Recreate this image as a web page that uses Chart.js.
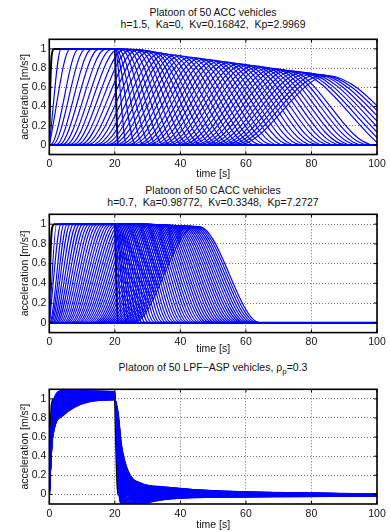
<!DOCTYPE html>
<html><head><meta charset="utf-8">
<script src="https://cdn.jsdelivr.net/npm/chart.js@4.4.1/dist/chart.umd.min.js"></script>
<style>
html,body{margin:0;padding:0;background:#fff;width:390px;height:531px;overflow:hidden;position:relative;font-family:'Liberation Sans',Arial,sans-serif;}
.t{position:absolute;left:49px;width:328px;text-align:center;font-size:10.5px;line-height:12px;color:#111;white-space:nowrap;}
.c{position:absolute;left:0;width:390px;}
sub{font-size:8px;vertical-align:-3px;line-height:0;}
</style></head><body>
<div class="t" style="top:6px">Platoon of 50 ACC vehicles<br>h=1.5,&nbsp; Ka=0,&nbsp; Kv=0.16842,&nbsp; Kp=2.9969</div>
<div class="t" style="top:184px">Platoon of 50 CACC vehicles<br>h=0.7,&nbsp; Ka=0.98772,&nbsp; Kv=0.3348,&nbsp; Kp=7.2727</div>
<div class="t" style="top:361px">Platoon of 50 LPF−ASP vehicles, ρ<sub>p</sub>=0.3</div>
<div class="c" style="top:30px;height:150px"><canvas id="c1" width="390" height="150"></canvas></div>
<div class="c" style="top:205px;height:150px"><canvas id="c2" width="390" height="150"></canvas></div>
<div class="c" style="top:380px;height:151px"><canvas id="c3" width="390" height="151"></canvas></div>
<script>
// ---- axes ----
const timeTicks = [0, 20, 40, 60, 80, 100];
const accelTicks = [0, 0.2, 0.4, 0.6, 0.8, 1];
const timeLabel = 'time [s]';
const accelLabel = 'acceleration [m/s²]';

// ---- leader (black) ----
const leaderTime  = [0, 0.3, 0.8, 1.5, 20, 20.4, 20.9, 100];
const leaderAccel = [0, 0.6, 0.95, 1, 1, 0.5, 0, 0];
const pulseWidth = 20; // leader pulse length [s]

// ---- ACC followers: rise mid-time, rise/fall half-width, peak ----
const accRiseMid = [1.8,3.2,4.6,6.0,7.5,9.0,10.5,12.0,13.5,15.0,16.5,18.0,19.5,21.0,22.5,24.0,25.5,27.0,28.5,30.0,31.5,33.0,34.5,36.0,37.5,39.0,40.5,42.0,43.5,45.0,46.5,48.0,49.5,51.0,52.5,54.0,55.5,57.0,58.5,60.0,61.5,63.0,64.5,66.0,67.5,69.0,70.5,72.0,73.5,75.0];
const accSpread = [1.8,3.2,4.3,5.0,5.5,6.1,6.6,7.0,7.4,7.8,8.2,8.6,8.9,9.3,9.6,9.9,10.2,10.5,10.8,11.1,11.4,11.6,11.9,12.1,12.4,12.6,12.9,13.1,13.4,13.6,13.8,14.0,14.2,14.5,14.7,14.9,15.1,15.3,15.5,15.7,15.9,16.1,16.3,16.4,16.6,16.8,17.0,17.2,17.4,17.5];
const accPeak = [1,1,1,1,1,0.998,0.997,0.996,0.995,0.993,0.99,0.985,0.979,0.972,0.965,0.958,0.951,0.944,0.937,0.93,0.923,0.916,0.909,0.902,0.895,0.888,0.881,0.874,0.867,0.86,0.853,0.846,0.839,0.832,0.825,0.818,0.811,0.804,0.797,0.79,0.783,0.776,0.769,0.762,0.755,0.748,0.741,0.734,0.727,0.72];

// ---- CACC followers ----
const caccRiseMid = [1.1,1.8,2.3,2.9,3.5,4.2,4.9,5.6,6.3,7.0,7.7,8.4,9.1,9.8,10.5,11.2,11.9,12.6,13.3,14.0,14.7,15.4,16.1,16.8,17.5,18.2,18.9,19.6,20.3,21.0,21.7,22.4,23.1,23.8,24.5,25.2,25.9,26.6,27.3,28.0,28.7,29.4,30.1,30.8,31.5,32.2,32.9,33.6,34.3,35.0];
const caccSpread = [1.1,1.8,2.2,2.6,2.9,3.2,3.5,3.7,3.95,4.2,4.4,4.6,4.7,4.9,5.1,5.3,5.4,5.6,5.7,5.9,6.0,6.2,6.3,6.45,6.6,6.7,6.85,7.0,7.1,7.2,7.3,7.45,7.55,7.7,7.8,7.9,8.0,8.1,8.2,8.3,8.4,8.5,8.6,8.7,8.8,8.9,9.0,9.1,9.2,9.3];
const caccPeak = [1,1,1,1,1,1,1,1,1,1,1,1,1,1,1,1,1,1,1,1,1,1,1,1,1,0.999,0.998,0.997,0.996,0.995,0.994,0.993,0.992,0.991,0.99,0.989,0.988,0.987,0.986,0.985,0.984,0.983,0.982,0.981,0.98,0.979,0.978,0.977,0.976,0.975];

// ---- LPF-ASP followers: acceleration read at sample times ----
const lpfTimes = [1, 4, 20, 21, 22, 24, 28, 35, 50, 100];
const lpfAt1 = [.95,.94,.93,.93,.92,.91,.90,.90,.89,.88,.87,.87,.86,.85,.84,.84,.83,.82,.81,.81,.80,.79,.78,.78,.77,.76,.75,.75,.74,.73,.72,.72,.71,.70,.69,.69,.68,.67,.66,.66,.65,.64,.63,.63,.62,.61,.60,.60,.59,.58];
const lpfAt4 = [1.090,1.084,1.079,1.073,1.068,1.062,1.057,1.051,1.046,1.040,1.035,1.029,1.024,1.018,1.013,1.007,1.002,0.996,0.991,0.985,0.980,0.974,0.969,0.963,0.958,0.952,0.947,0.941,0.936,0.930,0.925,0.919,0.914,0.908,0.903,0.897,0.892,0.886,0.881,0.875,0.870,0.864,0.859,0.853,0.848,0.842,0.837,0.831,0.826,0.820];
const lpfAt20 = [1.075,1.073,1.072,1.070,1.068,1.066,1.065,1.063,1.061,1.059,1.058,1.056,1.054,1.052,1.051,1.049,1.047,1.045,1.044,1.042,1.040,1.038,1.037,1.035,1.033,1.031,1.030,1.028,1.026,1.024,1.023,1.021,1.019,1.017,1.016,1.014,1.012,1.010,1.009,1.007,1.005,1.003,1.002,1.000,0.998,0.996,0.995,0.993,0.991,0.990];
const lpfAt21 = [.120,.135,.150,.165,.180,.196,.211,.226,.241,.256,.271,.286,.301,.316,.331,.347,.362,.377,.392,.407,.422,.437,.452,.467,.482,.498,.513,.528,.543,.558,.573,.588,.603,.618,.633,.649,.664,.679,.694,.709,.724,.739,.754,.769,.784,.800,.815,.830,.845,.860];
const lpfAt22 = [-.120,-.107,-.093,-.080,-.067,-.054,-.040,-.027,-.014,-.001,.013,.026,.039,.052,.066,.079,.092,.106,.119,.132,.145,.159,.172,.185,.198,.212,.225,.238,.251,.265,.278,.291,.304,.318,.331,.344,.358,.371,.384,.397,.411,.424,.437,.450,.464,.477,.490,.503,.517,.530];
const lpfAt24 = [-.150,-.142,-.134,-.126,-.117,-.109,-.101,-.093,-.085,-.077,-.068,-.060,-.052,-.044,-.036,-.028,-.019,-.011,-.003,.005,.013,.021,.030,.038,.046,.054,.062,.070,.079,.087,.095,.103,.111,.119,.128,.136,.144,.152,.160,.168,.177,.185,.193,.201,.209,.217,.226,.234,.242,.250];
const lpfAt28 = [-.105,-.100,-.096,-.091,-.087,-.082,-.077,-.073,-.068,-.064,-.059,-.054,-.050,-.045,-.041,-.036,-.032,-.027,-.022,-.018,-.013,-.009,-.004,.001,.005,.010,.014,.019,.024,.028,.033,.037,.042,.047,.051,.056,.060,.065,.069,.074,.079,.083,.088,.092,.097,.102,.106,.111,.115,.120];
const lpfAt35 = [-.055,-.052,-.049,-.047,-.044,-.041,-.038,-.036,-.033,-.030,-.027,-.025,-.022,-.019,-.016,-.014,-.011,-.008,-.005,-.003,.000,.003,.006,.008,.011,.014,.017,.019,.022,.025,.028,.030,.033,.036,.039,.041,.044,.047,.050,.052,.055,.058,.061,.063,.066,.069,.072,.074,.077,.080];
const lpfAt50 = [-.030,-.029,-.027,-.026,-.024,-.023,-.021,-.020,-.019,-.017,-.016,-.014,-.013,-.011,-.010,-.009,-.007,-.006,-.004,-.003,-.001,.000,.001,.003,.004,.006,.007,.009,.010,.011,.013,.014,.016,.017,.019,.020,.021,.023,.024,.026,.027,.029,.030,.031,.033,.034,.036,.037,.039,.040];
const lpfAt100 = [-.018,-.018,-.017,-.017,-.016,-.016,-.015,-.015,-.014,-.014,-.013,-.013,-.012,-.012,-.011,-.011,-.010,-.010,-.010,-.009,-.009,-.008,-.008,-.007,-.007,-.006,-.006,-.005,-.005,-.004,-.004,-.003,-.003,-.002,-.002,-.001,-.001,.000,.000,.001,.001,.002,.002,.003,.003,.004,.004,.005,.005,.005];
const lpfSeries = [lpfAt1, lpfAt4, lpfAt20, lpfAt21, lpfAt22, lpfAt24, lpfAt28, lpfAt35, lpfAt50, lpfAt100];

// ---- build datasets from the tables ----
const BLUE = '#0000ff';
function leaderDataset() {
  return { data: leaderTime.map((t, i) => ({ x: t, y: leaderAccel[i] })),
    borderColor: '#000', borderWidth: 2, pointRadius: 0, cubicInterpolationMode: 'monotone', order: 1 };
}
function pulsePoints(mid, spread, peak) {
  const pts = [{ x: 0, y: 0 }];
  const rs = mid - spread, re = mid + spread;
  const fs = mid + pulseWidth - spread, fe = mid + pulseWidth + spread;
  if (rs > 0) pts.push({ x: rs, y: 0 });
  if (re < fs) { pts.push({ x: re, y: peak }); pts.push({ x: fs, y: peak }); }
  else pts.push({ x: mid + pulseWidth / 2, y: peak });
  pts.push({ x: fe, y: 0 });
  if (fe < 100) pts.push({ x: 100, y: 0 });
  return pts;
}
function blue(pts) {
  return { data: pts, borderColor: BLUE, borderWidth: 1.15, pointRadius: 0, cubicInterpolationMode: 'monotone', order: 0 };
}
const accSets = accRiseMid.map((m, i) => blue(pulsePoints(m, accSpread[i], accPeak[i])));
const caccSets = caccRiseMid.map((m, i) => blue(pulsePoints(m, caccSpread[i], caccPeak[i])));
const lpfSets = lpfAt1.map((_, j) => blue([{ x: 0, y: 0 }].concat(lpfTimes.map((t, k) => ({ x: t, y: lpfSeries[k][j] })))));

const boxPlugin = {
  id: 'box',
  afterDatasetsDraw(chart) {
    const { ctx, chartArea: a, scales: { x, y } } = chart;
    ctx.save();
    ctx.strokeStyle = '#000';
    ctx.lineWidth = 1;
    ctx.beginPath();
    timeTicks.forEach(v => { const p = x.getPixelForValue(v);
      ctx.moveTo(p, a.bottom); ctx.lineTo(p, a.bottom - 3); ctx.moveTo(p, a.top); ctx.lineTo(p, a.top + 3); });
    accelTicks.forEach(v => { const p = y.getPixelForValue(v);
      ctx.moveTo(a.left, p); ctx.lineTo(a.left + 3, p); ctx.moveTo(a.right, p); ctx.lineTo(a.right - 3, p); });
    ctx.stroke();
    ctx.lineWidth = 1.6;
    ctx.strokeRect(a.left, a.top, a.right - a.left, a.bottom - a.top);
    ctx.restore();
  }
};

const FONT = { family: "'Liberation Sans', Arial, sans-serif", size: 10.5 };
function makeChart(id, sets, padTop, xHeight, tickPad) {
  new Chart(document.getElementById(id), {
    type: 'line',
    data: { datasets: sets.concat([leaderDataset()]) },
    options: {
      responsive: false, animation: false, events: [],
      layout: { padding: { top: padTop, right: 13, bottom: 0, left: 0 } },
      plugins: { legend: { display: false }, tooltip: { enabled: false } },
      scales: {
        x: { type: 'linear', min: 0, max: 100,
          afterBuildTicks: s => { s.ticks = timeTicks.map(v => ({ value: v })); },
          afterFit: s => { s.height = xHeight; },
          ticks: { callback: v => String(v), font: FONT, color: '#111', padding: tickPad, maxRotation: 0, autoSkip: false },
          grid: { color: 'rgba(0,0,0,0.7)', lineWidth: 0.8, drawTicks: false },
          border: { display: false, dash: [1, 2] },
          title: { display: true, text: timeLabel, font: FONT, color: '#111', padding: { top: 0, bottom: 0 } } },
        y: { type: 'linear', min: -0.1, max: 1.1,
          afterBuildTicks: s => { s.ticks = accelTicks.map(v => ({ value: v })); },
          afterFit: s => { s.width = 49.3; },
          ticks: { callback: v => String(v), font: FONT, color: '#111', padding: 3 },
          grid: { color: 'rgba(0,0,0,0.7)', lineWidth: 0.8, drawTicks: false },
          border: { display: false, dash: [1, 2] },
          title: { display: true, text: accelLabel, font: FONT, color: '#111', padding: { top: 19, bottom: 0 } } }
      }
    },
    plugins: [boxPlugin]
  });
}
makeChart('c1', accSets, 4.5, 25.5, 3);
makeChart('c2', caccSets, 7.7, 22.4, 3);
makeChart('c3', lpfSets, 4.3, 27, 4);
</script>
</body></html>
